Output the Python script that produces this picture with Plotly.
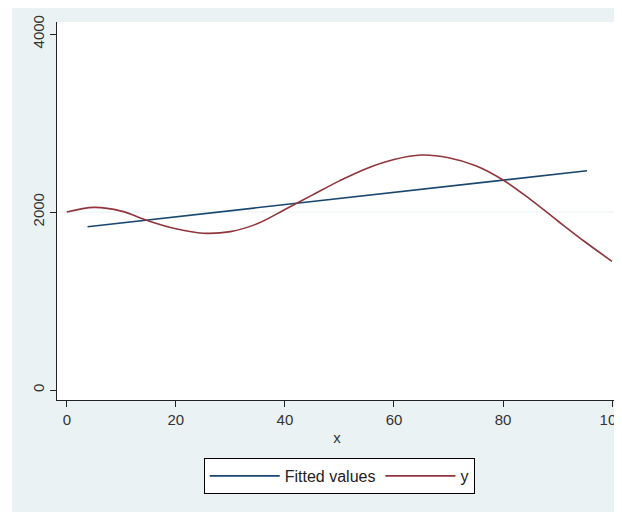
import plotly.graph_objects as go

# data
x_y = [0, 5, 10, 15, 20, 25, 30, 35, 40, 45, 50, 55, 60, 65, 70, 75, 80, 85, 90, 95, 100]
y_vals = [2000, 2052, 2010, 1900, 1812, 1762, 1780, 1870, 2028, 2190, 2350, 2490, 2590, 2640,
          2610, 2520, 2360, 2142, 1902, 1666, 1445]
x_fit = [3.8, 95.4]
fit_vals = [1835, 2464]
x_ticks = [0, 20, 40, 60, 80, 100]
y_ticks = [0, 2000, 4000]

BG = "#eaf2f3"
FONT = "Liberation Sans, Arial, sans-serif"

# page body adds an 8px offset; figure sized to fill the rest of the window
W, H = 614, 504
L, R, T, B = 49, 5, 14, 112
PW, PH = W - L - R, H - T - B

fig = go.Figure()
fig.add_trace(go.Scatter(x=x_fit, y=fit_vals, mode="lines", name="Fitted values",
                         line=dict(color="#1a476f", width=1.6)))
fig.add_trace(go.Scatter(x=x_y, y=y_vals, mode="lines", name="y",
                         line=dict(color="#90353b", width=1.6, shape="spline", smoothing=1.0)))

fig.update_layout(
    width=W, height=H,
    margin=dict(l=L, r=R, t=T, b=B, autoexpand=False),
    paper_bgcolor=BG, plot_bgcolor="white",
    font=dict(family=FONT, size=15, color="#333333"),
    showlegend=True,
    legend=dict(orientation="h", x=0.504, xanchor="center", y=-58 / PH, yanchor="top",
                bgcolor="white", bordercolor="#000000", borderwidth=1,
                font=dict(size=16, color="#222222"), itemwidth=70,
                traceorder="normal"),
    xaxis=dict(range=[-1.8, 100.9], tickvals=x_ticks, ticks="outside", ticklen=6,
               tickcolor="#222222", showline=True, linecolor="#222222", linewidth=1.2,
               showgrid=False, zeroline=False, automargin=False, ticklabeloverflow="allow",
               title=dict(text="x", font=dict(size=15, color="#333333"), standoff=5),
               tickfont=dict(size=15, color="#333333")),
    yaxis=dict(range=[-112, 4135], tickvals=y_ticks, ticks="outside", ticklen=6,
               tickcolor="#222222", showline=True, linecolor="#222222", linewidth=1.2,
               showgrid=False, zeroline=False, tickangle=-90, automargin=False,
               tickfont=dict(size=15, color="#333333")),
    shapes=[
        dict(type="line", xref="paper", yref="y", x0=0, x1=1, y0=2000, y1=2000,
             line=dict(color=BG, width=1.2), layer="below"),
        dict(type="rect", xref="paper", yref="paper", x0=-L / PW, x1=(4 - L) / PW,
             y0=-B / PH, y1=1 + T / PH, fillcolor="white", line=dict(width=0)),
    ],
)

fig.write_html("out.html")
